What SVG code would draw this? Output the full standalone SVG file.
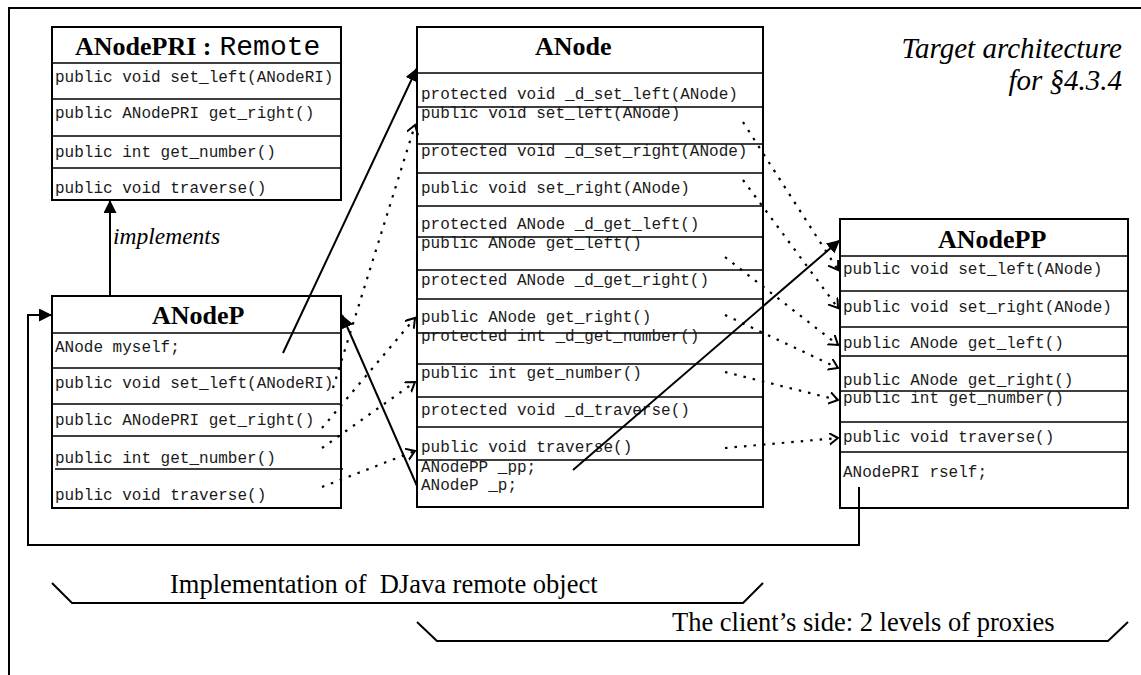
<svg xmlns="http://www.w3.org/2000/svg" width="1141" height="675" viewBox="0 0 1141 675">
  <defs>
    <style>
      .box { fill: #fff; stroke: #000; stroke-width: 2; }
      .sep { stroke: #000; stroke-width: 1.6; fill: none; }
      .m { font-family: "Liberation Mono", "Courier New", monospace; font-size: 16px; fill: #1a1a1a; }
      .ttl { font-family: "Liberation Serif", "Times New Roman", serif; font-weight: bold; font-size: 26px; fill: #000; }
      .it { font-family: "Liberation Serif", "Times New Roman", serif; font-style: italic; fill: #000; }
      .cap { font-family: "Liberation Serif", "Times New Roman", serif; font-size: 26.5px; fill: #000; }
      .solid { stroke: #000; stroke-width: 2; fill: none; marker-end: url(#filled); }
      .dotted { stroke: #000; stroke-width: 2.2; fill: none; stroke-dasharray: 2.5 7; marker-end: url(#open); }
      .line { stroke: #000; stroke-width: 2; fill: none; }
    </style>
    <marker id="filled" markerUnits="userSpaceOnUse" markerWidth="14" markerHeight="14" refX="13" refY="6.5" orient="auto">
      <path d="M0,0 L13,6.5 L0,13 z" fill="#000"/>
    </marker>
    <marker id="open" markerUnits="userSpaceOnUse" markerWidth="12" markerHeight="14" refX="9" refY="6" orient="auto">
      <path d="M0,0 L9,6 L0,12" fill="none" stroke="#000" stroke-width="2"/>
    </marker>
  </defs>

  <rect width="1141" height="675" fill="#fff"/>

  <!-- page frame -->
  <path class="line" d="M9,675 L9,8 L1141,8"/>

  <!-- title -->
  <text class="it" font-size="29" x="1122" y="58" text-anchor="end">Target architecture</text>
  <text class="it" font-size="29" x="1122" y="90" text-anchor="end">for §4.3.4</text>

  <!-- remote interface -->
  <g id="ANodePRI">
    <rect class="box" x="52" y="27" width="289" height="173"/>
    <path class="sep" d="M52,63 H341 M52,99 H341 M52,136 H341 M52,168 H341"/>
    <text x="75" y="55"><tspan class="ttl">ANodePRI :</tspan><tspan font-family="Liberation Mono, monospace" font-size="28" dx="8">Remote</tspan></text>
    <text class="m" x="55" y="82">public void set_left(ANodeRI)</text>
    <text class="m" x="55" y="118">public ANodePRI get_right()</text>
    <text class="m" x="55" y="157">public int get_number()</text>
    <text class="m" x="55" y="193">public void traverse()</text>
  </g>

  <!-- remote implementation -->
  <g id="ANodeP">
    <rect class="box" x="52" y="296" width="289" height="212"/>
    <path class="sep" d="M52,333 H341 M52,368 H341 M52,404 H341 M52,436 H341 M55,469 H343"/>
    <text class="ttl" x="152" y="324" font-size="27">ANodeP</text>
    <text class="m" x="55" y="352">ANode myself;</text>
    <text class="m" x="55" y="388">public void set_left(ANodeRI)</text>
    <text class="m" x="55" y="425">public ANodePRI get_right()</text>
    <text class="m" x="55" y="463">public int get_number()</text>
    <text class="m" x="55" y="500">public void traverse()</text>
  </g>

  <!-- local node -->
  <g id="ANode">
    <rect class="box" x="417" y="27" width="346" height="480"/>
    <path class="sep" d="M417,73 H763 M417,107 H763 M417,144 H763 M417,173 H763 M417,206 H763 M417,237 H763 M417,270 H763 M417,299 H763 M417,333 H763 M417,364 H763 M417,397 H763 M417,427 H763 M417,460 H763"/>
    <text class="ttl" x="535" y="55">ANode</text>
    <text class="m" x="421" y="99">protected void _d_set_left(ANode)</text>
    <text class="m" x="421" y="118">public void set_left(ANode)</text>
    <text class="m" x="421" y="156">protected void _d_set_right(ANode)</text>
    <text class="m" x="421" y="193">public void set_right(ANode)</text>
    <text class="m" x="421" y="229">protected ANode _d_get_left()</text>
    <text class="m" x="421" y="248">public ANode get_left()</text>
    <text class="m" x="421" y="285">protected ANode _d_get_right()</text>
    <text class="m" x="421" y="322">public ANode get_right()</text>
    <text class="m" x="421" y="341">protected int _d_get_number()</text>
    <text class="m" x="421" y="378">public int get_number()</text>
    <text class="m" x="421" y="415">protected void _d_traverse()</text>
    <text class="m" x="421" y="452">public void traverse()</text>
    <text class="m" x="421" y="472">ANodePP _pp;</text>
    <text class="m" x="421" y="490">ANodeP _p;</text>
  </g>

  <!-- client proxy -->
  <g id="ANodePP">
    <rect class="box" x="840" y="219" width="288" height="289"/>
    <path class="sep" d="M840,256 H1128 M840,291 H1128 M840,327 H1128 M840,356 H1128 M840,391 H1128 M840,422 H1128 M840,452 H1128"/>
    <text class="ttl" x="938" y="248">ANodePP</text>
    <text class="m" x="843" y="274">public void set_left(ANode)</text>
    <text class="m" x="843" y="312">public void set_right(ANode)</text>
    <text class="m" x="843" y="348">public ANode get_left()</text>
    <text class="m" x="843" y="385">public ANode get_right()</text>
    <text class="m" x="843" y="403">public int get_number()</text>
    <text class="m" x="843" y="442">public void traverse()</text>
    <text class="m" x="843" y="477">ANodePRI rself;</text>
  </g>

  <g id="connectors">
    <!-- implements -->
    <path class="solid" d="M110,296 L110,200"/>
    <text class="it" font-size="23.5" x="113" y="244">implements</text>

    <!-- references -->
    <path class="solid" d="M283,353 L417,68"/>
    <path class="solid" d="M417,486 L342,315"/>
    <path class="solid" d="M573,470 L840,240"/>
    <path class="solid" d="M859,487 L859,545 L28,545 L28,315 L52,315"/>

    <!-- delegation ANodeP to ANode -->
    <path class="dotted" d="M333,388 L415,125"/>
    <path class="dotted" d="M322,428 L415,318"/>
    <path class="dotted" d="M322,448 L415,382"/>
    <path class="dotted" d="M322,487 L415,451"/>

    <!-- delegation ANode to ANodePP -->
    <path class="dotted" d="M743,122 L838,270"/>
    <path class="dotted" d="M743,180 L838,308"/>
    <path class="dotted" d="M725,257 L838,345"/>
    <path class="dotted" d="M725,315 L838,368"/>
    <path class="dotted" d="M725,372 L838,400"/>
    <path class="dotted" d="M725,448 L838,438"/>
  </g>

  <!-- braces -->
  <path class="line" d="M52,583 L72,603 L743,603 L763,583"/>
  <text class="cap" x="170" y="593" xml:space="preserve">Implementation of  DJava remote object</text>
  <path class="line" d="M417,622 L437,641 L1108,641 L1128,622"/>
  <text class="cap" x="672" y="631">The client’s side: 2 levels of proxies</text>
</svg>
